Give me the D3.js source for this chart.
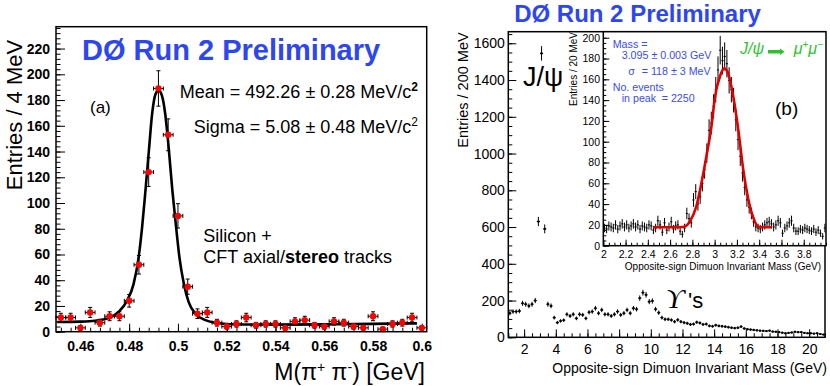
<!DOCTYPE html>
<html>
<head>
<meta charset="utf-8">
<script src="https://cdnjs.cloudflare.com/ajax/libs/d3/7.8.5/d3.min.js"></script>
<style>
body { margin: 0; background: #fff; }
svg { display: block; font-family: "Liberation Sans", Arial, Helvetica, sans-serif; }
</style>
</head>
<body>
<svg id="chart" width="830" height="386"></svg>
<script>
// (a) pi+ pi- mass, 4 MeV bins
var kMass = [0.452, 0.456, 0.46, 0.464, 0.468, 0.472, 0.476, 0.48, 0.484, 0.488,
	0.492, 0.496, 0.5, 0.504, 0.508, 0.512, 0.516, 0.52, 0.524, 0.528,
	0.532, 0.536, 0.54, 0.544, 0.548, 0.552, 0.556, 0.56, 0.564, 0.568,
	0.572, 0.576, 0.58, 0.584, 0.588, 0.592, 0.596, 0.6];
var kCounts = [11, 11, 3, 15, 7, 12, 12, 24, 52, 124,
	189, 153, 90, 35, 14, 15, 7, 4, 6, 11,
	5, 6, 6, 3, 8, 9, 5, 4, 8, 7,
	4, 3, 12, 2, 6, 7, 11, 3];
// fit curve
var kFitMass = [0.4505, 0.46, 0.466, 0.472, 0.4757, 0.4791, 0.4818, 0.4839, 0.4853, 0.4867,
	0.4881, 0.4894, 0.4908, 0.4921, 0.4935, 0.4948, 0.4962, 0.4977, 0.4991, 0.5006,
	0.5024, 0.5044, 0.5072, 0.5113, 0.5154, 0.52, 0.53, 0.54, 0.56, 0.58, 0.598];
var kFitVal = [7.5, 7.8, 8.5, 10.8, 15.5, 24, 37, 58, 81, 110,
	141, 169, 184.5, 187.5, 183, 169, 143, 110, 84, 58,
	37.5, 23, 14, 9, 7, 6, 5.6, 5.5, 5.7, 6.1, 6.5];
var kXTicks = [0.46, 0.48, 0.5, 0.52, 0.54, 0.56, 0.58, 0.6];
var kYTicks = [0, 20, 40, 60, 80, 100, 120, 140, 160, 180, 200, 220];

// (b) dimuon mass, 200 MeV bins
var muMass = [1.1, 1.3, 1.5, 1.7, 1.9, 2.1, 2.3, 2.5, 2.7, 2.9,
	3.1, 3.3, 3.5, 3.7, 3.9, 4.1, 4.3, 4.5, 4.7, 4.9,
	5.1, 5.3, 5.5, 5.7, 5.9, 6.1, 6.3, 6.5, 6.7, 6.9,
	7.1, 7.3, 7.5, 7.7, 7.9, 8.1, 8.3, 8.5, 8.7, 8.9,
	9.1, 9.3, 9.5, 9.7, 9.9, 10.1, 10.3, 10.5, 10.7, 10.9,
	11.1, 11.3, 11.5, 11.7, 11.9, 12.1, 12.3, 12.5, 12.7, 12.9,
	13.1, 13.3, 13.5, 13.7, 13.9, 14.1, 14.3, 14.5, 14.7, 14.9,
	15.1, 15.3, 15.5, 15.7, 15.9, 16.1, 16.3, 16.5, 16.7, 16.9,
	17.1, 17.3, 17.5, 17.7, 17.9, 18.1, 18.3, 18.5, 18.7, 18.9,
	19.1, 19.3, 19.5, 19.7, 19.9, 20.1, 20.3, 20.5, 20.7, 20.9];
var muCounts = [131, 140, 140, 143, 185, 180, 171, 180, 200, 630,
	1545, 590, 180, 171, 107, 80, 89, 93, 125, 116,
	125, 103, 125, 122, 103, 136, 140, 158, 131, 149,
	125, 125, 116, 125, 140, 122, 131, 149, 131, 158,
	153, 213, 243, 231, 194, 198, 153, 134, 107, 98,
	98, 94, 85, 95, 85, 80, 76, 70, 72, 82,
	78, 70, 72, 62, 60, 66, 62, 60, 58, 55,
	52, 50, 52, 58, 48, 44, 42, 40, 38, 36,
	35, 34, 36, 31, 30, 28, 25, 22, 24, 26,
	30, 28, 28, 24, 22, 22, 20, 22, 18, 15];
var muXTicks = [2, 4, 6, 8, 10, 12, 14, 16, 18, 20];
var muYTicks = [0, 200, 400, 600, 800, 1000, 1200, 1400, 1600];

// (b) inset, J/psi region, 20 MeV bins
var psiMass = [2.01, 2.03, 2.05, 2.07, 2.09, 2.11, 2.13, 2.15, 2.17, 2.19,
	2.21, 2.23, 2.25, 2.27, 2.29, 2.31, 2.33, 2.35, 2.37, 2.39,
	2.41, 2.43, 2.45, 2.47, 2.49, 2.51, 2.53, 2.55, 2.57, 2.59,
	2.61, 2.63, 2.65, 2.67, 2.69, 2.71, 2.73, 2.75, 2.77, 2.79,
	2.81, 2.83, 2.85, 2.87, 2.89, 2.91, 2.93, 2.95, 2.97, 2.99,
	3.01, 3.03, 3.05, 3.07, 3.09, 3.11, 3.13, 3.15, 3.17, 3.19,
	3.21, 3.23, 3.25, 3.27, 3.29, 3.31, 3.33, 3.35, 3.37, 3.39,
	3.41, 3.43, 3.45, 3.47, 3.49, 3.51, 3.53, 3.55, 3.57, 3.59,
	3.61, 3.63, 3.65, 3.67, 3.69, 3.71, 3.73, 3.75, 3.77, 3.79,
	3.81, 3.83, 3.85, 3.87, 3.89, 3.91, 3.93, 3.95, 3.97, 3.99];
var psiCounts = [17, 16, 19, 18, 17, 20, 16, 19, 21, 18,
	20, 17, 19, 21, 18, 20, 16, 19, 18, 17,
	20, 19, 15, 17, 24, 20, 13, 22, 15, 18,
	23, 16, 19, 20, 14, 11, 17, 31, 26, 22,
	44, 52, 40, 47, 60, 73, 89, 111, 118, 134,
	150, 169, 188, 178, 182, 175, 159, 150, 140, 121,
	102, 86, 70, 56, 44, 37, 31, 23, 18, 17,
	16, 18, 20, 22, 23, 21, 18, 20, 24, 22,
	12, 17, 19, 22, 24, 17, 14, 14, 16, 15,
	17, 16, 15, 14, 16, 13, 15, 12, 9, 17];
var psiFitMass = [2.45, 2.6, 2.716, 2.776, 2.836, 2.881, 2.926, 2.971, 3.003, 3.048,
	3.087, 3.123, 3.168, 3.213, 3.257, 3.302, 3.347, 3.392, 3.451, 3.515];
var psiFitVal = [17.7, 17.7, 18, 23, 38, 60, 86, 114.5, 143, 163,
	170.5, 165, 143, 111, 73, 45, 27, 18.3, 17.7, 17.7];
var psiXTicks = [2, 2.2, 2.4, 2.6, 2.8, 3, 3.2, 3.4, 3.6, 3.8];
var psiYTicks = [0, 20, 40, 60, 80, 100, 120, 140, 160, 180, 200];

var BLUE = "#2d47f0";
var IBLUE = "#3b4cf2";
var GREEN = "#2cc42c";
var svg = d3.select("#chart");
var noLabel = function() { return ""; };

var addAxis = function(axis, tx, ty) {
	var a = svg.append("g").attr("transform", "translate(" + tx + "," + ty + ")").call(axis);
	a.select(".domain").remove();
	a.selectAll("line").attr("stroke", "#000").attr("stroke-width", 1);
	a.selectAll("text").attr("fill", "#000").attr("font-family", null);
	return a;
};

var drawFrame = function(x0, y0, x1, y1, fill) {
	svg.append("rect").attr("x", x0).attr("y", y0).attr("width", x1 - x0).attr("height", y1 - y0)
		.attr("fill", fill || "none").attr("stroke", "#000").attr("stroke-width", 1.5);
};

var addText = function(x, y, size, txt) {
	return svg.append("text").attr("x", x).attr("y", y).attr("font-size", size).text(txt);
};

/* ---------- panel (a) ---------- */
var kx = d3.scaleLinear().domain([0.45, 0.602]).range([56, 426.7]);
var ky = d3.scaleLinear().domain([0, 237]).range([331.7, 26.7]);

var kxa = addAxis(d3.axisBottom(kx).tickValues(kXTicks).tickSize(-8).tickFormat(d3.format("~g")), 0, 331.7);
kxa.selectAll("text").attr("dy", null).attr("y", 19.5).attr("font-size", 14).attr("font-weight", "bold");
addAxis(d3.axisBottom(kx).tickValues(d3.range(0.452, 0.6015, 0.004)).tickSize(-4).tickFormat(noLabel), 0, 331.7);

var kya = addAxis(d3.axisLeft(ky).tickValues(kYTicks).tickSize(-9).tickPadding(6), 56, 0);
kya.selectAll("text").attr("font-size", 14).attr("font-weight", "bold");
addAxis(d3.axisLeft(ky).tickValues(d3.range(0, 237, 4)).tickSize(-4.5).tickFormat(noLabel), 56, 0);

// fit
var kLine = d3.line()
	.x(function(d, i) { return kx(kFitMass[i]); })
	.y(function(d) { return ky(d); })
	.curve(d3.curveMonotoneX);
svg.append("path").attr("d", kLine(kFitVal)).attr("fill", "none")
	.attr("stroke", "#000").attr("stroke-width", 2.6);

// points with error bars
var kPts = svg.append("g").attr("stroke", "#000").attr("stroke-width", 1);
kMass.forEach(function(m, i) {
	var c = kCounts[i], e = Math.sqrt(c);
	var cx = kx(m), cy = ky(c);
	var xl = kx(m - 0.002), xr = kx(m + 0.002);
	var yt = ky(c + e), yb = ky(Math.max(c - e, 0));
	kPts.append("line").attr("x1", xl).attr("x2", xr).attr("y1", cy).attr("y2", cy);
	kPts.append("line").attr("x1", xl).attr("x2", xl).attr("y1", cy - 2).attr("y2", cy + 2);
	kPts.append("line").attr("x1", xr).attr("x2", xr).attr("y1", cy - 2).attr("y2", cy + 2);
	kPts.append("line").attr("x1", cx).attr("x2", cx).attr("y1", yt).attr("y2", yb);
	kPts.append("line").attr("x1", cx - 2).attr("x2", cx + 2).attr("y1", yt).attr("y2", yt);
	kPts.append("line").attr("x1", cx - 2).attr("x2", cx + 2).attr("y1", yb).attr("y2", yb);
	svg.append("circle").attr("cx", cx).attr("cy", cy).attr("r", 3.2).attr("fill", "#f00");
});
drawFrame(56, 26.7, 426.7, 331.7);

addText(82, 60, 29, "DØ Run 2 Preliminary").attr("font-weight", "bold").attr("fill", BLUE);
addText(90, 113, 17, "(a)");
var mean = addText(418, 98.3, 18, "Mean = 492.26 ± 0.28 MeV/c").attr("text-anchor", "end");
mean.append("tspan").attr("dy", -7).attr("font-size", 12).attr("font-weight", "bold").text("2");
var sig = addText(418, 133.3, 18, "Sigma = 5.08  ± 0.48 MeV/c").attr("text-anchor", "end");
sig.append("tspan").attr("dy", -7).attr("font-size", 12).text("2");
addText(203.3, 242, 18, "Silicon +");
var cft = addText(203.3, 263.3, 18, "CFT axial/");
cft.append("tspan").attr("font-weight", "bold").text("stereo");
cft.append("tspan").text(" tracks");
addText(0, 0, 22, "Entries / 4 MeV").attr("text-anchor", "middle")
	.attr("transform", "translate(21.5,115) rotate(-90)");
var kxt = addText(425, 380, 23, "M(π").attr("text-anchor", "end");
kxt.append("tspan").attr("dy", -8).attr("font-size", 14).text("+");
kxt.append("tspan").attr("dy", 8).text(" π");
kxt.append("tspan").attr("dy", -8).attr("font-size", 14).text("-");
kxt.append("tspan").attr("dy", 8).text(") [GeV]");

/* ---------- panel (b) ---------- */
var mx = d3.scaleLinear().domain([1, 21]).range([508.3, 825]);
var my = d3.scaleLinear().domain([0, 1663]).range([337.3, 31.7]);

var mxa = addAxis(d3.axisBottom(mx).tickValues(muXTicks).tickSize(-8), 0, 337.3);
mxa.selectAll("text").attr("dy", null).attr("y", 16.7).attr("font-size", 14);
addAxis(d3.axisBottom(mx).tickValues(d3.range(1, 21.01, 0.5)).tickSize(-4).tickFormat(noLabel), 0, 337.3);
var mya = addAxis(d3.axisLeft(my).tickValues(muYTicks).tickSize(-8).tickPadding(3.5).tickFormat(d3.format("d")), 508.3, 0);
mya.selectAll("text").attr("font-size", 14);
addAxis(d3.axisLeft(my).tickValues(d3.range(0, 1663, 50)).tickSize(-4).tickFormat(noLabel), 508.3, 0);

var mPts = svg.append("g").attr("stroke", "#000").attr("stroke-width", 1);
muMass.forEach(function(m, i) {
	var c = muCounts[i], e = Math.sqrt(c);
	var cx = mx(m), cy = my(c);
	mPts.append("line").attr("x1", mx(m - 0.1)).attr("x2", mx(m + 0.1)).attr("y1", cy).attr("y2", cy);
	mPts.append("line").attr("x1", cx).attr("x2", cx).attr("y1", my(c + e)).attr("y2", my(c - e));
	svg.append("rect").attr("x", cx - 1).attr("y", cy - 1).attr("width", 2).attr("height", 2).attr("fill", "#000");
});
drawFrame(508.3, 31.7, 825, 337.3);

addText(637.5, 22, 24, "DØ Run 2 Preliminary").attr("text-anchor", "middle")
	.attr("font-weight", "bold").attr("fill", BLUE);
addText(0, 0, 14.5, "Entries / 200 MeV").attr("text-anchor", "middle")
	.attr("transform", "translate(467.5,90) rotate(-90)");
addText(827, 372.7, 14, "Opposite-sign Dimuon Invariant Mass (GeV)").attr("text-anchor", "end");
addText(523, 86, 27, "J/ψ");
addText(666, 308, 28, "ϒ").attr("font-family", "Liberation Serif, serif").attr("font-style", "italic");
addText(688, 308, 22, "'s");

/* ---------- inset ---------- */
var px = d3.scaleLinear().domain([2, 4]).range([603.3, 826]);
var py = d3.scaleLinear().domain([0, 205.8]).range([245.7, 31.7]);
svg.append("rect").attr("x", 603.3).attr("y", 31.7).attr("width", 222.7).attr("height", 214).attr("fill", "#fff");

var pxa = addAxis(d3.axisBottom(px).tickValues(psiXTicks).tickSize(-6).tickFormat(d3.format("~g")), 0, 245.7);
pxa.selectAll("text").attr("dy", null).attr("y", 12.6).attr("font-size", 10.5);
addAxis(d3.axisBottom(px).tickValues(d3.range(2, 4.001, 0.05)).tickSize(-3).tickFormat(noLabel), 0, 245.7);
var pya = addAxis(d3.axisLeft(py).tickValues(psiYTicks).tickSize(-6).tickPadding(3.3), 603.3, 0);
pya.selectAll("text").attr("font-size", 10.5);
addAxis(d3.axisLeft(py).tickValues(d3.range(0, 205, 5)).tickSize(-3).tickFormat(noLabel), 603.3, 0);

var pPts = svg.append("g").attr("stroke", "#000").attr("stroke-width", 1);
psiMass.forEach(function(m, i) {
	var c = psiCounts[i], e = Math.sqrt(c);
	var cx = px(m), cy = py(c);
	pPts.append("line").attr("x1", px(m - 0.01)).attr("x2", px(m + 0.01)).attr("y1", cy).attr("y2", cy);
	pPts.append("line").attr("x1", cx).attr("x2", cx).attr("y1", py(c + e)).attr("y2", py(c - e));
});

var pLine = d3.line()
	.x(function(d, i) { return px(psiFitMass[i]); })
	.y(function(d) { return py(d); })
	.curve(d3.curveMonotoneX);
svg.append("path").attr("d", pLine(psiFitVal)).attr("fill", "none")
	.attr("stroke", "#e00000").attr("stroke-width", 2.6);
drawFrame(603.3, 31.7, 826, 245.7);

addText(0, 0, 10, "Entries / 20 MeV").attr("text-anchor", "middle")
	.attr("transform", "translate(576.5,69) rotate(-90)");
addText(821, 270, 10, "Opposite-sign Dimuon Invariant Mass (GeV)").attr("text-anchor", "end");

addText(612.7, 47.5, 10.7, "Mass =").attr("fill", IBLUE);
addText(621.7, 59, 10.7, "3.095 ± 0.003 GeV").attr("fill", IBLUE);
addText(628.3, 75, 10.7, "σ").attr("fill", IBLUE);
addText(641.7, 75, 10.7, "= 118 ± 3 MeV").attr("fill", IBLUE);
addText(612.7, 90.5, 10.7, "No. events").attr("fill", IBLUE);
addText(621.7, 102, 10.7, "in peak").attr("fill", IBLUE);
addText(661.7, 102, 10.7, "= 2250").attr("fill", IBLUE);
addText(775, 115, 19, "(b)");

// J/psi -> mu+ mu- label
addText(740, 54, 16, "J/ψ").attr("fill", GREEN).attr("font-style", "italic");
svg.append("path").attr("d", "M768,50 L780,50 L780,48.5 L784.5,51.7 L780,54.9 L780,53.4 L768,53.4 Z")
	.attr("fill", GREEN);
var mumu = addText(793.7, 54, 16, "μ").attr("fill", GREEN).attr("font-style", "italic");
mumu.append("tspan").attr("dy", -6).attr("font-size", 10).text("+");
mumu.append("tspan").attr("dy", 6).text("μ");
mumu.append("tspan").attr("dy", -6).attr("font-size", 10).text("−");
</script>
</body>
</html>
